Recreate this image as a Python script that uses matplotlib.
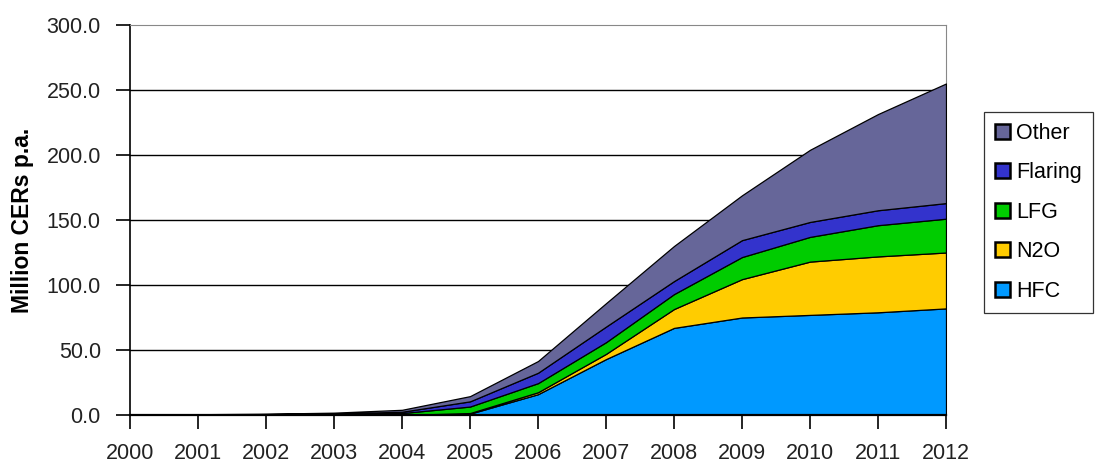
import numpy as np
import matplotlib.pyplot as plt

plt.rcParams['font.family'] = ['Liberation Sans', 'DejaVu Sans']

# annual CER volumes by project type (million CERs per year)
years = list(range(2000, 2013))
hfc     = [0.0, 0.0, 0.0, 0.0, 0.0, 1.0, 16.0, 43.0, 67.0, 75.0, 77.0, 79.0, 82.0]
n2o     = [0.0, 0.0, 0.0, 0.0, 0.0, 0.5, 1.5, 4.0, 14.5, 29.5, 41.0, 43.0, 43.0]
lfg     = [0.0, 0.3, 0.5, 0.8, 1.5, 5.0, 7.0, 9.0, 11.5, 17.0, 19.0, 24.0, 26.0]
flaring = [0.0, 0.1, 0.2, 0.4, 1.0, 4.0, 8.0, 12.0, 10.0, 13.0, 11.5, 11.5, 12.0]
other   = [0.2, 0.2, 0.3, 0.6, 1.5, 4.0, 9.0, 18.0, 27.0, 34.5, 55.5, 74.0, 92.0]

series = [hfc, n2o, lfg, flaring, other]
names = ['HFC', 'N2O', 'LFG', 'Flaring', 'Other']
colors = ['#0099FF', '#FFCC00', '#00CC00', '#3333CC', '#666699']

fig = plt.figure(figsize=(10.96, 4.65), dpi=100)
ax = fig.add_axes([130 / 1096, 50 / 465, 816 / 1096, 390 / 465])

ax.stackplot(years, *series, colors=colors, labels=names,
             edgecolor='black', linewidth=0.9, zorder=3)

ax.set_xlim(2000, 2012)
ax.set_ylim(0, 300)
ax.set_xticks(years)
ax.set_yticks(np.arange(0, 301, 50))
ax.set_yticklabels([f'{v:.1f}' for v in np.arange(0, 301, 50)])

for y in range(50, 300, 50):
    ax.axhline(y, color='black', linewidth=1.0, zorder=1)

ax.spines['left'].set_color('black')
ax.spines['bottom'].set_color('black')
ax.spines['bottom'].set_linewidth(1.6)
ax.spines['bottom'].set_zorder(4)
ax.spines['left'].set_linewidth(1.2)
ax.spines['top'].set_color('#888888')
ax.spines['right'].set_color('#888888')

ax.tick_params(axis='both', direction='out', colors='black',
               labelcolor='#222222', labelsize=15.5, width=1.2, length=10)
ax.tick_params(axis='y', pad=11)
ax.tick_params(axis='x', pad=10)

ax.set_ylabel('Million CERs p.a.', fontsize=16.5, fontweight='bold', labelpad=9)

handles, labels = ax.get_legend_handles_labels()
leg = fig.legend(handles[::-1], labels[::-1], loc='upper left',
                 bbox_to_anchor=(984 / 1096, 1 - 112 / 465),
                 fontsize=15.5, frameon=True, fancybox=False,
                 edgecolor='black', handlelength=0.7, handleheight=0.7,
                 handletextpad=0.3, labelspacing=0.86, borderpad=0.5,
                 borderaxespad=0)
leg.get_frame().set_linewidth(0.9)
for h in leg.legend_handles:
    h.set_edgecolor('black')
    h.set_linewidth(1.8)

fig.savefig('out.png', dpi=100)
